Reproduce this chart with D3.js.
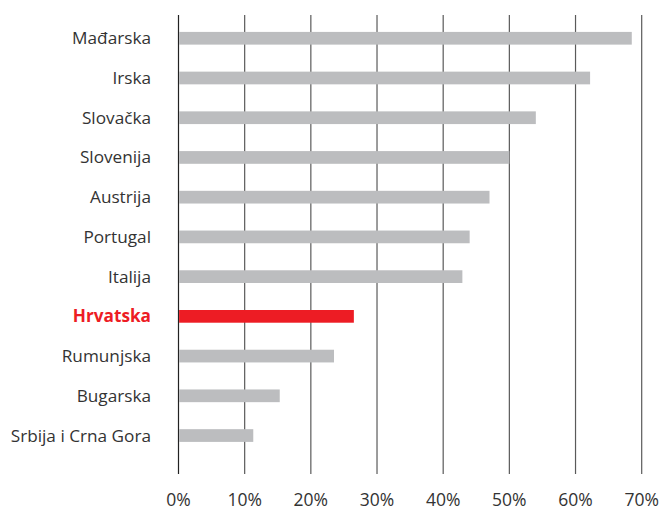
<!DOCTYPE html>
<html><head><meta charset="utf-8">
<script src="https://cdn.jsdelivr.net/npm/d3@7"></script>
<style>body{margin:0;background:#fff}svg{display:block}text{font-family:"Open Sans","Noto Sans",sans-serif}</style>
</head><body>
<script>
const categories = ["Mađarska","Irska","Slovačka","Slovenija","Austrija","Portugal","Italija","Hrvatska","Rumunjska","Bugarska","Srbija i Crna Gora"];
const values = [68.5, 62.2, 54.0, 50.0, 47.0, 44.0, 42.9, 26.5, 23.5, 15.3, 11.3];
const highlight = "Hrvatska";
const ticks = [0,10,20,30,40,50,60,70];

const W = 669, H = 510;
const svg = d3.select("body").append("svg").attr("width", W).attr("height", H);
const x = d3.scaleLinear().domain([0,70]).range([178.5, 641.7]);
const y = d3.scaleBand().domain(categories).range([18.4, 455.4]).paddingInner(0.68).paddingOuter(0.34);

// grid lines
svg.append("g").selectAll("line").data(ticks).join("line")
  .attr("x1", d => x(d)).attr("x2", d => x(d))
  .attr("y1", 15).attr("y2", 474)
  .attr("stroke", d => d === 0 ? "#222" : "#5a5a5a")
  .attr("stroke-width", 1.2);

// bars
const data = categories.map((c,i) => ({c, v: values[i]}));
svg.append("g").selectAll("rect").data(data).join("rect")
  .attr("x", x(0) + 0.6)
  .attr("y", d => y(d.c))
  .attr("width", d => x(d.v) - x(0) - 0.6)
  .attr("height", y.bandwidth())
  .attr("fill", d => d.c === highlight ? "#ed1c24" : "#bcbdbf");

// category labels
svg.append("g").selectAll("text").data(data).join("text")
  .attr("x", 151)
  .attr("y", d => y(d.c) + y.bandwidth()/2)
  .attr("dy", "0.35em")
  .attr("text-anchor", "end")
  .attr("font-size", 17.2)
  .attr("font-weight", d => d.c === highlight ? "bold" : "normal")
  .attr("fill", d => d.c === highlight ? "#ed1c24" : "#333")
  .text(d => d.c);

// tick labels
svg.append("g").selectAll("text").data(ticks).join("text")
  .attr("x", d => x(d))
  .attr("y", 506)
  .attr("text-anchor", "middle")
  .attr("font-size", 17.5)
  .attr("fill", "#333")
  .text(d => d + "%");
</script>
</body></html>
